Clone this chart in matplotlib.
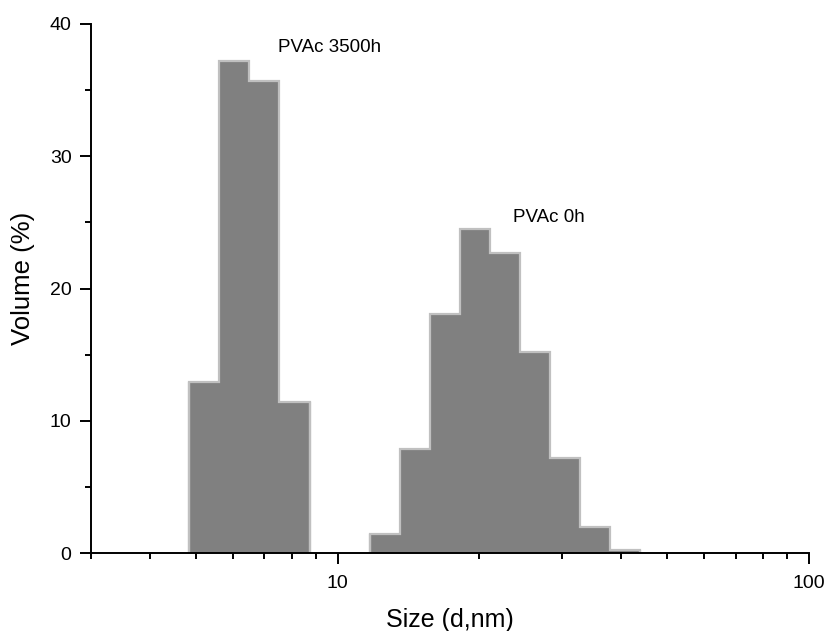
import matplotlib
matplotlib.use("Agg")
import matplotlib.pyplot as plt
from matplotlib.ticker import LogLocator, NullFormatter, FixedLocator, FixedFormatter, MultipleLocator

plt.rcParams['font.family'] = ['Liberation Sans', 'DejaVu Sans']

# Malvern size-class bin edges (d, nm)
edges_3500h = [4.849, 5.615, 6.503, 7.531, 8.721]
volume_3500h = [12.9, 37.2, 35.7, 11.4]

edges_0h = [11.7, 13.54, 15.69, 18.17, 21.04, 24.36, 28.21, 32.67, 37.84, 43.82]
volume_0h = [1.4, 7.9, 18.1, 24.5, 22.7, 15.2, 7.2, 2.0, 0.25]

label_3500h = "PVAc 3500h"
label_0h = "PVAc 0h"

fig = plt.figure(figsize=(8.27, 6.31), dpi=100)
ax = fig.add_axes([91/827, 1-553/631, (809-91)/827, (553-24)/631])

for edges, vals in [(edges_3500h, volume_3500h), (edges_0h, volume_0h)]:
    ax.stairs(vals, edges, fill=True, facecolor='#808080', edgecolor='none', zorder=2)
    ax.stairs(vals, edges, fill=False, edgecolor='#c0c0c0', linewidth=1.6, zorder=3)
    ax.vlines([edges[0], edges[-1]], 0, [vals[0], vals[-1]], colors='#c0c0c0', linewidth=1.6, zorder=3)

ax.set_xscale('log')
ax.set_xlim(3, 100)
ax.set_ylim(0, 40)

ax.xaxis.set_major_locator(FixedLocator([10, 100]))
ax.xaxis.set_major_formatter(FixedFormatter(['10', '100']))
ax.xaxis.set_minor_locator(LogLocator(base=10, subs=range(2, 10), numticks=20))
ax.xaxis.set_minor_formatter(NullFormatter())

ax.yaxis.set_major_locator(MultipleLocator(10))
ax.yaxis.set_minor_locator(MultipleLocator(5))

for s in ['top', 'right']:
    ax.spines[s].set_visible(False)
for s in ['left', 'bottom']:
    ax.spines[s].set_linewidth(1.4)
    ax.spines[s].set_zorder(5)

ax.tick_params(axis='both', which='major', direction='out', length=8, width=1.4, labelsize=14)
ax.tick_params(axis='x', which='major', pad=8)
ax.tick_params(axis='y', which='major', pad=6)
ax.tick_params(axis='both', which='minor', direction='out', length=4.5, width=1.4)

ax.set_xlabel("Size (d,nm)", fontsize=18)
ax.set_ylabel("Volume (%)", fontsize=18.5)
ax.xaxis.set_label_coords(0.5, -0.104)
ax.yaxis.set_label_coords(-0.078, 0.52)

ax.text(7.46, 38.25, label_3500h, fontsize=13.5, ha='left', va='center')
ax.text(23.6, 25.4, label_0h, fontsize=13.5, ha='left', va='center')

fig.savefig("out.png", dpi=100)
